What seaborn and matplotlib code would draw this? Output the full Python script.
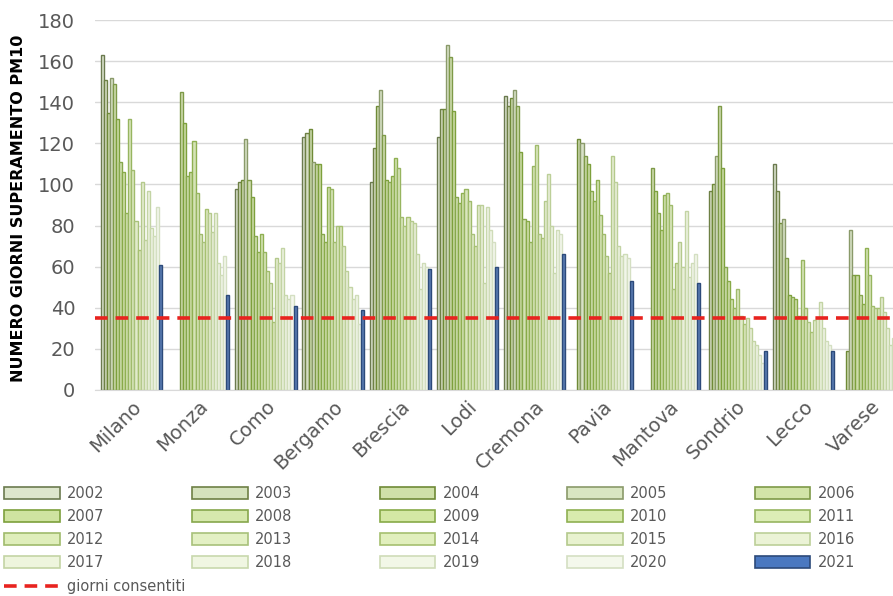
import numpy as np
import pandas as pd
import matplotlib
matplotlib.use('Agg')
import matplotlib.pyplot as plt
import seaborn as sns
from matplotlib.patches import Patch
from matplotlib.lines import Line2D

nan = np.nan
cities = ['Milano', 'Monza', 'Como', 'Bergamo', 'Brescia', 'Lodi',
          'Cremona', 'Pavia', 'Mantova', 'Sondrio', 'Lecco', 'Varese']
years = list(range(2002, 2022))

# giorni di superamento PM10 per anno (2002 -> 2021)
milano = [163, 151, 135, 152, 149, 132, 111, 106, 86, 132, 107, 82, 68, 101, 73, 97, 79, 75, 89, 61]
monza = [nan, nan, nan, nan, 145, 130, 104, 106, 121, 96, 76, 72, 88, 86, 77, 86, 62, 56, 65, 46]
como = [98, 101, 102, 122, 102, 94, 75, 67, 76, 67, 58, 52, 33, 64, 62, 69, 46, 44, 46, 41]
bergamo = [123, 125, 127, 111, 110, 110, 76, 72, 99, 98, 72, 80, 80, 70, 58, 50, 44, 46, 32, 39]
brescia = [101, 118, 138, 146, 124, 102, 101, 104, 113, 108, 84, 80, 84, 82, 81, 66, 49, 62, 60, 59]
lodi = [123, 137, 137, 168, 162, 136, 94, 91, 96, 98, 92, 76, 70, 90, 90, 52, 89, 78, 72, 60]
cremona = [143, 138, 142, 146, 138, 116, 83, 82, 72, 109, 119, 76, 74, 92, 105, 80, 57, 78, 76, 66]
pavia = [nan, nan, 122, 120, 114, 110, 97, 92, 102, 85, 76, 65, 57, 114, 101, 70, 65, 66, 64, 53]
mantova = [nan, nan, nan, nan, 108, 97, 86, 78, 95, 96, 90, 49, 62, 72, 60, 87, 55, 62, 66, 52]
sondrio = [nan, 97, 100, 114, 138, 108, 60, 53, 44, 40, 49, 36, 32, 35, 30, 24, 22, 17, 13, 19]
lecco = [110, 97, 81, 83, 64, 46, 45, 44, 36, 63, 40, 33, 28, 34, 35, 43, 30, 24, 22, 19]
varese = [nan, nan, 19, 78, 56, 56, 46, 42, 69, 56, 41, 40, 40, 45, 38, 30, 22, 25, 28, 30]
limite = 35

series = [milano, monza, como, bergamo, brescia, lodi, cremona, pavia,
          mantova, sondrio, lecco, varese]
rows = []
for city, vals in zip(cities, series):
    for y, v in zip(years, vals):
        rows.append({'city': city, 'year': str(y), 'days': v})
df = pd.DataFrame(rows)

fills = ['#dde6cc', '#d5e2bd', '#cfe0a8', '#d9e6c2', '#d2e4a8', '#cfe3a0', '#d6e8ad',
         '#d4e8a4', '#d8ebae', '#dcedb6', '#dfeebb', '#e3f0c4', '#e1efbd', '#e8f2cf',
         '#ebf3d6', '#eef5dd', '#f0f6e2', '#f2f7e7', '#f4f8ec', '#4a78c0']
edges = ['#6b7a4f', '#6e8045', '#6f8a37', '#8a9a6a', '#7e9a48', '#7da03c', '#86a74c',
         '#88aa48', '#8fb052', '#97b560', '#a0bb6c', '#a8c17a', '#a6c070', '#b4c98c',
         '#bccf98', '#c3d4a4', '#c8d8ad', '#cfdcb8', '#d4dfc2', '#2c4a7a']
year_labels = [str(y) for y in years]
red_dash = (0, (3.5, 2.2))

sns.set_style('white')
fig = plt.figure(figsize=(8.93, 5.96), dpi=100)
ax = fig.add_axes([0.106, 0.346, 0.894, 0.62])

sns.barplot(data=df, x='city', y='days', hue='year', hue_order=year_labels,
            order=cities, palette=fills, width=0.914, gap=0, ax=ax,
            legend=False, linewidth=1.0)
for cont, ec in zip(ax.containers, edges):
    for bar in cont:
        bar.set_edgecolor(ec)

ax.axhline(limite, color='#e8231f', linestyle=red_dash, linewidth=2.6, zorder=5)

ax.set_ylim(0, 180)
ax.set_yticks(range(0, 181, 20))
ax.set_xlim(-0.547, 11.33)
ax.yaxis.grid(True, color='#d9d9d9', linewidth=1)
ax.set_axisbelow(True)
for s in ['top', 'right', 'left']:
    ax.spines[s].set_visible(False)
ax.spines['bottom'].set_color('#d9d9d9')
ax.set_xlabel('')
ax.set_ylabel('NUMERO GIORNI SUPERAMENTO PM10', fontsize=11.5,
              fontweight='bold', color='black')
ax.yaxis.set_label_coords(-0.086, 0.49)
ax.tick_params(axis='x', length=0, colors='#595959', labelsize=14, pad=5)
ax.tick_params(axis='y', length=0, colors='#595959', labelsize=14, pad=14)
plt.setp(ax.get_xticklabels(), rotation=45, ha='right', rotation_mode='anchor',
         fontsize=14, color='#595959')

# legenda anni: 5 colonne, ordinata per righe
handles = [Patch(facecolor=f, edgecolor=e, linewidth=1.2) for f, e in zip(fills, edges)]
order = [r * 5 + c for c in range(5) for r in range(4)]
fig.legend([handles[i] for i in order], [year_labels[i] for i in order],
           ncol=5, loc='upper left', bbox_to_anchor=(0.005, 0.185), frameon=False,
           fontsize=10.5, handlelength=3.8, handleheight=0.9, handletextpad=0.5,
           columnspacing=6.0, labelspacing=0.55, borderaxespad=0, borderpad=0,
           labelcolor='#595959')
fig.legend([Line2D([0], [0], color='#e8231f', linestyle=red_dash, linewidth=2.6)],
           ['giorni consentiti'], loc='upper left', bbox_to_anchor=(0.005, 0.028),
           frameon=False, fontsize=10.5, handlelength=3.8, handletextpad=0.5,
           borderaxespad=0, borderpad=0, labelcolor='#595959')

fig.savefig('out.png', dpi=100)
